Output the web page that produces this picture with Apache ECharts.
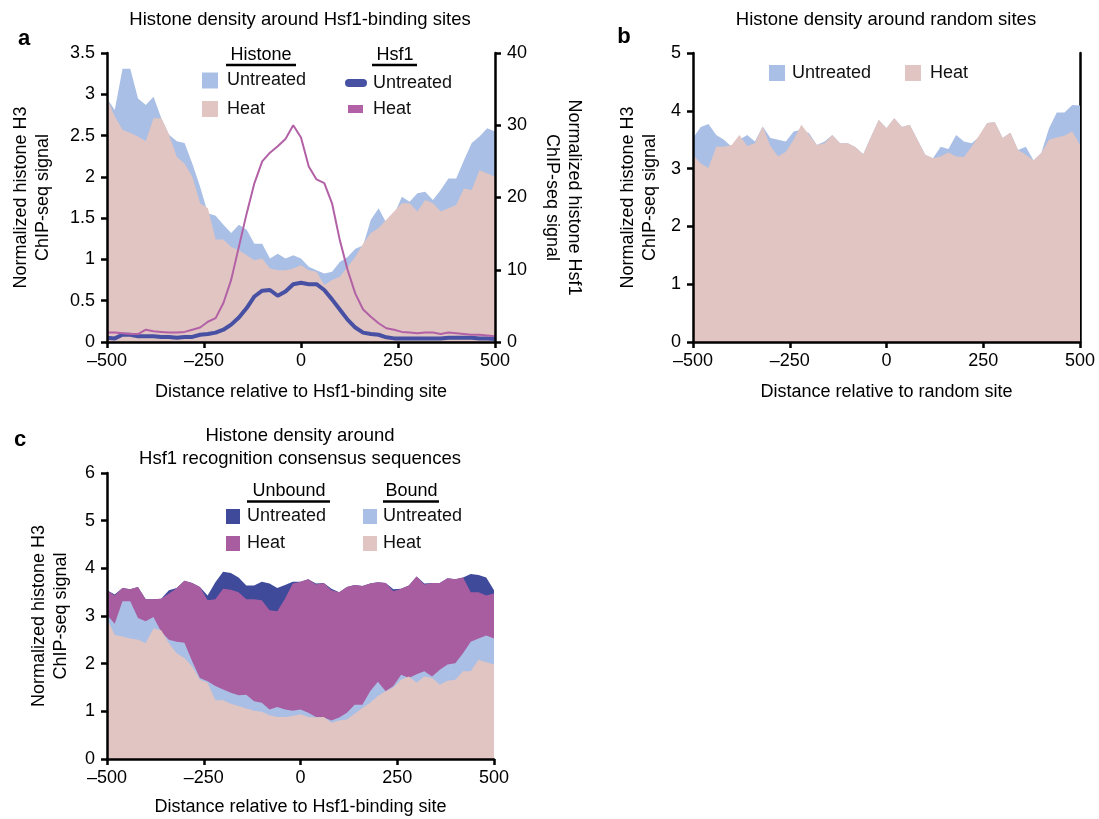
<!DOCTYPE html>
<html>
<head>
<meta charset="utf-8">
<script src="https://cdn.jsdelivr.net/npm/echarts@6/dist/echarts.min.js"></script>
<style>
html,body{margin:0;padding:0;background:#fff;}
#chart{width:1099px;height:819px;}
</style>
</head>
<body>
<div id="chart"></div>
<script>
// Distance positions (bp)
const positions = [-500,-480,-460,-440,-420,-400,-380,-360,-340,-320,-300,-280,-260,-240,-220,-200,-180,-160,-140,-120,-100,-80,-60,-40,-20,0,20,40,60,80,100,120,140,160,180,200,220,240,260,280,300,320,340,360,380,400,420,440,460,480,500];

// Panel a
const histA_untreated = [2.95,2.81,3.31,3.31,2.95,2.87,2.97,2.71,2.51,2.43,2.41,2.16,1.88,1.56,1.53,1.42,1.32,1.42,1.36,1.19,1.19,1.01,1.07,1.01,1.05,1.01,0.91,0.87,0.83,0.85,0.97,1.03,1.13,1.17,1.48,1.62,1.44,1.54,1.76,1.70,1.80,1.82,1.72,1.84,1.98,1.98,2.20,2.41,2.49,2.59,2.55];
const histA_heat = [2.95,2.73,2.57,2.53,2.49,2.43,2.71,2.71,2.51,2.24,2.16,2.00,1.68,1.62,1.24,1.24,1.15,1.11,1.05,0.99,1.01,0.89,0.87,0.87,0.89,0.93,0.87,0.85,0.69,0.75,0.79,0.91,1.03,1.19,1.32,1.38,1.48,1.58,1.68,1.68,1.58,1.72,1.68,1.58,1.62,1.66,1.86,1.84,2.08,2.04,2.00];
const hsf1_untreated = [0.6,0.5,1.0,1.0,0.8,0.8,0.8,0.7,0.7,0.6,0.7,0.7,1.0,1.1,1.3,1.7,2.4,3.4,4.7,6.3,7.1,7.2,6.4,7.0,8.0,8.2,8.0,8.0,7.2,5.9,4.5,3.1,2.0,1.3,1.1,1.0,0.65,0.5,0.5,0.5,0.5,0.5,0.5,0.5,0.6,0.6,0.6,0.6,0.5,0.5,0.4];
const hsf1_heat = [1.3,1.3,1.2,1.1,1.1,1.7,1.5,1.4,1.3,1.3,1.4,1.7,2.0,2.8,3.3,5.4,8.6,13.2,17.8,22.0,25.0,26.2,27.1,28.1,30.0,28.3,24.3,22.5,22.0,19.2,14.1,10.0,6.7,4.5,3.5,2.6,1.9,1.7,1.4,1.3,1.2,1.3,1.3,1.1,1.3,1.2,1.1,1.0,1.0,0.9,0.8];

// Panel b
const histB_untreated = [3.53,3.72,3.77,3.58,3.50,3.38,3.50,3.58,3.47,3.73,3.53,3.50,3.47,3.64,3.67,3.61,3.41,3.47,3.58,3.44,3.44,3.37,3.25,3.55,3.84,3.70,3.87,3.72,3.76,3.50,3.24,3.18,3.38,3.34,3.58,3.47,3.44,3.55,3.79,3.80,3.53,3.62,3.32,3.38,3.14,3.27,3.70,3.97,3.97,4.10,4.09];
const histB_heat = [3.24,3.09,3.01,3.38,3.38,3.41,3.58,3.39,3.44,3.73,3.39,3.21,3.29,3.50,3.76,3.58,3.41,3.44,3.58,3.44,3.44,3.37,3.25,3.55,3.84,3.70,3.87,3.72,3.76,3.50,3.24,3.18,3.21,3.28,3.21,3.20,3.38,3.58,3.79,3.80,3.53,3.62,3.32,3.24,3.14,3.27,3.50,3.54,3.57,3.64,3.41];

// Panel c
const unbound_untreated = [3.54,3.45,3.59,3.56,3.61,3.35,3.35,3.36,3.54,3.59,3.74,3.69,3.61,3.43,3.71,3.93,3.90,3.81,3.64,3.64,3.72,3.68,3.59,3.65,3.72,3.72,3.77,3.68,3.69,3.57,3.50,3.61,3.65,3.63,3.68,3.71,3.69,3.56,3.57,3.64,3.83,3.68,3.69,3.69,3.79,3.77,3.81,3.88,3.86,3.81,3.54];
const unbound_heat = [3.54,3.43,3.59,3.56,3.61,3.35,3.35,3.36,3.47,3.58,3.74,3.69,3.61,3.33,3.35,3.57,3.55,3.50,3.35,3.35,3.33,3.12,3.10,3.36,3.68,3.72,3.77,3.66,3.69,3.54,3.50,3.61,3.65,3.63,3.68,3.71,3.69,3.52,3.57,3.64,3.83,3.66,3.69,3.69,3.79,3.77,3.81,3.50,3.50,3.43,3.47];
const bound_untreated = [3.02,2.84,3.31,3.31,2.96,2.89,2.98,2.67,2.50,2.46,2.44,2.05,1.70,1.63,1.53,1.46,1.39,1.34,1.35,1.21,1.18,1.04,1.09,1.04,1.01,1.04,0.97,0.88,0.87,0.81,0.87,0.97,1.14,1.14,1.42,1.62,1.42,1.53,1.77,1.70,1.78,1.84,1.73,1.87,1.98,2.01,2.22,2.46,2.53,2.59,2.53];
const bound_heat = [2.95,2.60,2.57,2.53,2.50,2.43,2.74,2.70,2.43,2.22,2.12,1.94,1.66,1.60,1.23,1.23,1.16,1.11,1.06,1.01,0.99,0.92,0.88,0.88,0.90,0.94,0.88,0.87,0.88,0.76,0.81,0.83,0.95,1.07,1.18,1.32,1.42,1.50,1.66,1.73,1.60,1.73,1.70,1.56,1.64,1.66,1.84,1.84,2.08,2.03,1.98];

// Axis ticks
const xTicks = {min: -500, max: 500, interval: 250};
const yTicksA = {min: 0, max: 3.5, interval: 0.5};
const yTicksA2 = {min: 0, max: 40, interval: 10};
const yTicksB = {min: 0, max: 5, interval: 1};
const yTicksC = {min: 0, max: 6, interval: 1};

const FONT = '"Liberation Sans", Arial, Helvetica, sans-serif';
const C = {
  lightBlue: '#aabfe5',
  pink: '#e1c5c2',
  darkBlue: '#3f4a9b',
  purple: '#a85da0',
  lineBlue: '#4750a2',
  lineHeat: '#b261a6'
};

function pairs(vals){ return positions.map((x,i)=>[x, vals[i]]); }

const axisLineStyle = {show:true, onZero:false, lineStyle:{color:'#000', width:2.5}};
const axisTickStyle = {show:true, length:6, lineStyle:{color:'#000', width:2.5}};
const labelStyle = {color:'#000', fontSize:18, fontFamily:FONT};
const nameStyle = {color:'#000', fontSize:18, fontFamily:FONT, lineHeight:22};

function xAxisDef(gridIndex, name, gap){
  return {
    type:'value', gridIndex, min:xTicks.min, max:xTicks.max, interval:xTicks.interval,
    axisLine:axisLineStyle, axisTick:axisTickStyle, splitLine:{show:false},
    axisLabel:Object.assign({margin:10, formatter:v=> v<0 ? '\u2013'+(-v) : String(v)}, labelStyle),
    name, nameLocation:'middle', nameGap:gap, nameTextStyle:nameStyle, z:5
  };
}
function yAxisDef(gridIndex, t, name, gap, extra){
  return Object.assign({
    type:'value', gridIndex, min:t.min, max:t.max, interval:t.interval,
    axisLine:axisLineStyle, axisTick:axisTickStyle, splitLine:{show:false},
    axisLabel:Object.assign({margin:12}, labelStyle),
    name, nameLocation:'middle', nameGap:gap, nameRotate:90, nameTextStyle:nameStyle, z:5
  }, extra||{});
}

function area(name, xi, yi, vals, color){
  return {
    name, type:'line', xAxisIndex:xi, yAxisIndex:yi, data:pairs(vals),
    symbol:'none', showSymbol:false, silent:true,
    lineStyle:{width:0, color}, itemStyle:{color},
    areaStyle:{color, opacity:1}, animation:false
  };
}
function line(name, xi, yi, vals, color, width){
  return {
    name, type:'line', xAxisIndex:xi, yAxisIndex:yi, data:pairs(vals),
    symbol:'none', showSymbol:false, silent:true,
    lineStyle:{width, color}, itemStyle:{color}, animation:false
  };
}

const legendText = {color:'#111', fontSize:18, fontFamily:FONT, padding:[0,0,0,4]};
function legendDef(data, left, top, opts){
  return Object.assign({
    data, left, top, orient:'vertical', padding:0, itemGap:10,
    itemWidth:16, itemHeight:16, selectedMode:false, icon:'rect',
    textStyle:legendText, formatter:n=>n.split(' ').slice(1).join(' ')
  }, opts||{});
}

function txt(text, x, y, size, weight, align){
  return {type:'text', silent:true, style:{text, x, y, fill:'#000', font:(weight||'normal')+' '+size+'px '+FONT, textAlign:align||'center', textVerticalAlign:'middle'}};
}
function uline(x1, x2, y){
  return {type:'line', silent:true, shape:{x1, y1:y, x2, y2:y}, style:{stroke:'#000', lineWidth:2.5}};
}

const option = {
  backgroundColor:'#fff',
  animation:false,
  grid:[
    {left:107, top:53, width:388, height:289},
    {left:693, top:53, width:387, height:289},
    {left:107, top:473, width:387, height:289}
  ],
  xAxis:[
    xAxisDef(0, 'Distance relative to Hsf1-binding site', 39),
    xAxisDef(1, 'Distance relative to random site', 39),
    xAxisDef(2, 'Distance relative to Hsf1-binding site', 37)
  ],
  yAxis:[
    yAxisDef(0, yTicksA, 'Normalized histone H3\nChIP-seq signal', 53),
    yAxisDef(0, yTicksA2, 'Normalized histone Hsf1\nChIP-seq signal', 46, {position:'right', nameRotate:-90}),
    yAxisDef(1, yTicksB, 'Normalized histone H3\nChIP-seq signal', 32),
    yAxisDef(1, yTicksB, '', 0, {position:'right', axisTick:{show:false}, axisLabel:{show:false}, z:1}),
    yAxisDef(2, yTicksC, 'Normalized histone H3\nChIP-seq signal', 35)
  ],
  legend:[
    legendDef(['Histone Untreated','Histone Heat'], 202, 71.5, {itemGap:10.5}),
    legendDef(['Hsf1 Untreated'], 345, 74, {itemWidth:22, itemHeight:8, icon:'path://M4,0 L18,0 A4,4 0 0 1 18,8 L4,8 A4,4 0 0 1 4,0 Z', textStyle:Object.assign({}, legendText, {padding:[0,0,0,1]})}),
    legendDef(['Hsf1 Heat'], 348, 100, {itemWidth:15, itemHeight:8, textStyle:Object.assign({}, legendText, {padding:[0,0,0,5]})}),
    legendDef(['Random Untreated'], 769, 64, {textStyle:Object.assign({}, legendText, {padding:[0,0,0,2]})}),
    legendDef(['Random Heat'], 905, 64, {textStyle:Object.assign({}, legendText, {padding:[0,0,0,4]})}),
    legendDef(['Unbound Untreated','Unbound Heat'], 226, 507.5, {itemWidth:14, itemHeight:15, itemGap:9, textStyle:Object.assign({}, legendText, {padding:[0,0,0,2]})}),
    legendDef(['Bound Untreated','Bound Heat'], 363, 507.5, {itemWidth:14, itemHeight:15, itemGap:9, textStyle:Object.assign({}, legendText, {padding:[0,0,0,1]})})
  ],
  graphic:[
    txt('a', 24, 39, 22, 'bold'),
    txt('b', 624, 37, 22, 'bold'),
    txt('c', 20, 440, 22, 'bold'),
    txt('Histone density around Hsf1-binding sites', 300, 20, 18.5),
    txt('Histone density around random sites', 886, 20, 18.5),
    txt('Histone density around', 300, 436, 18.5),
    txt('Hsf1 recognition consensus sequences', 300, 459, 18.5),
    txt('Histone', 261, 55, 18),
    uline(226, 296, 65),
    txt('Hsf1', 395, 55, 18),
    uline(372, 417, 65),
    txt('Unbound', 289, 491, 18),
    uline(247, 330, 501.5),
    txt('Bound', 411.5, 491, 18),
    uline(383, 439, 501.5)
  ],
  series:[
    area('Histone Untreated', 0, 0, histA_untreated, C.lightBlue),
    area('Histone Heat', 0, 0, histA_heat, C.pink),
    line('Hsf1 Untreated', 0, 1, hsf1_untreated, C.lineBlue, 4),
    line('Hsf1 Heat', 0, 1, hsf1_heat, C.lineHeat, 2),
    area('Random Untreated', 1, 2, histB_untreated, C.lightBlue),
    area('Random Heat', 1, 2, histB_heat, C.pink),
    area('Unbound Untreated', 2, 4, unbound_untreated, C.darkBlue),
    area('Unbound Heat', 2, 4, unbound_heat, C.purple),
    area('Bound Untreated', 2, 4, bound_untreated, C.lightBlue),
    area('Bound Heat', 2, 4, bound_heat, C.pink)
  ]
};

const chart = echarts.init(document.getElementById('chart'), null, {renderer:'canvas'});
chart.setOption(option);
</script>
</body>
</html>
